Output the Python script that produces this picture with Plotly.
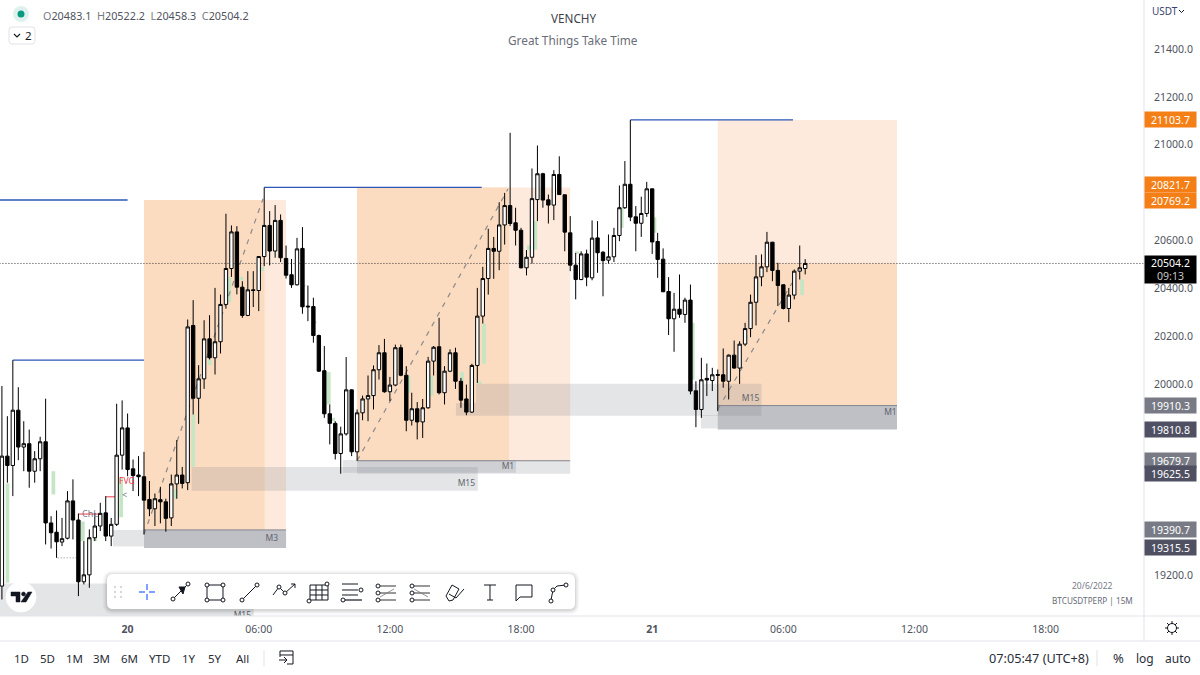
import plotly.graph_objects as go
import pandas as pd

# ---------- data ----------
first_bar = "2022-06-19 18:15"
highs = [19992,19866,20100,19987,19845,19810,19720,19780,19939,19448,19472,19441,19553,19602,19459,19344,19393,19462,19504,19532,19441,19918,19932,
 19877,19685,19699,19717,19595,19543,19571,19521,19622,19766,19654,20270,
 20351,20079,20267,20288,20402,20374,20712,20663,20660,20430,20472,20472,20535,20821.7,20723,20748,20709,20579,20523,20611,20656,20412,20361,20207,20159,19915,19845,19822,20113,19978,
 19894,19952,20036,20078,20163,20189,20030,20165,20165,20075,19964,19925,19938,20114,20159,20277,20075,20145,20152,20026,19998,20085,20402,20490,20649,20615,20760,20799,21050,20737,20653,20560,20901,20997,20883,20792,20894,20952,20792,20702,20548,20555,20562,
 20684,20681,20556,20625,20653,20830,20932,21103.7,20744,20783,20845,20817,20632,20567,20447,20381,20458,20361,20416,20012,20110,20086,20068,20061,20149,20124,20182,20179,20256,20374,20539,20542,20636,20594,20507,20416,20402,20479,20579,20522.2]
body_tops = [19699,19699,19891,19891,19751,19751,19688,19759,19759,19420,19381,19354,19512,19512,19432,19203,19358,19407,19460,19462,19414,19703,19817,
 19817,19646,19620,19613,19518,19521,19517,19508,19583,19620,19620,20239,
 20245,20022,20189,20189,20177,20333,20483,20636,20636,20405,20394,20394,20533,20663,20663,20684,20684,20525,20457,20565,20567,20326,20324,20203,20056,19876,19836,19792,19976,19976,
 19880,19938,19952,20060,20131,20131,19996,20152,20152,20037,19897,19897,19901,20096,20154,20156,20054,20131,20131,20012,19938,20078,20284,20441,20567,20567,20665,20746,20746,20674,20643,20530,20775,20879,20879,20770,20876,20876,20791,20632,20497,20544,20544,
 20610,20611,20551,20532,20621,20737,20835,20835,20699,20713,20816,20816,20596,20522,20387,20313,20313,20351,20351,19972,20018,20024,20039,20040,20039,20121,20121,20167,20232,20342,20448,20490,20593,20593,20475,20415,20372,20472,20486,20504.2]
body_bottoms = [19156,19660,19660,19737,19737,19636,19636,19688,19420,19379,19341,19340,19356,19432,19174,19174,19203,19358,19407,19365,19365,19414,19703,
 19643,19618,19613,19515,19479,19479,19508,19439,19441,19583,19585,19588,
 19941,19941,20022,20110,20110,20177,20333,20483,20405,20287,20287,20391,20391,20533,20556,20556,20528,20455,20415,20415,20323,20323,20203,20054,19876,19836,19710,19710,19792,19717,
 19717,19880,19938,19952,20060,19968,19968,19996,20037,19849,19849,19842,19842,19901,20096,19964,19964,20054,20012,19933,19883,19883,20078,20284,20441,20555,20555,20665,20671,20643,20486,20486,20530,20771,20769,20748,20748,20792,20635,20497,20437,20437,20447,
 20444,20549,20516,20518,20532,20621,20737,20698,20672,20672,20713,20594,20521,20386,20273,20273,20292,20291,19971,19894,19894,20017,20015,20037,20012,20012,20067,20067,20167,20232,20342,20448,20490,20475,20412,20316,20316,20372,20472,20483.1]
lows = [19100,19588,19532,19682,19636,19567,19588,19636,19330,19313,19274,19323,19351,19351,19114,19163,19149,19344,19386,19344,19323,19407,19643,
 19615,19553,19532,19372,19448,19407,19418,19383,19407,19521,19564,19557,
 19873,19834,19980,20103,20040,20128,20315,20448,20375,20277,20284,20322,20305,20493,20496,20528,20510,20441,20402,20412,20294,20263,20173,20051,19859,19748,19685,19625.5,19785,19699,
 19679.7,19849,19845,19894,20019,19964,19929,19991,20033,19803,19827,19769,19775,19897,20036,19957,19915,20050,19980,19901,19870,19880,20005,20253,20374,20440,20476,20583,20660,20579,20483,20454,20504,20681,20737,20671,20685,20791,20555,20472,20354,20434,20409,
 20434,20465,20367,20504,20510,20597,20732,20681,20555,20615,20699,20544,20444,20384,20205,20135,20277,20256,19957,19820,19859,19950,19971,19887,19985,19936,20064,20001,20159,20196,20245,20409,20468,20430,20326,20312,20259,20354,20437,20458.3]
direction = ("UDUDUDUUDDDUUDDUUUUDUUU" "DDDDDUDDUUDU" "DUUDUUUUDDUDUUDUDDDUDDDDDDDUUD"
             "UUUUUDUUDDUDUUUDUUDDDUUUUDUUDDDUUUDDUDDDDUD" "UDDUUUUDDUUDDDDUDUDDUDUDDUDUUUUUUDDDUUUU")
assert len(highs) == len(body_tops) == len(body_bottoms) == len(lows) == len(direction), (len(highs), len(body_tops), len(body_bottoms), len(lows), len(direction))

price_ticks = [21400, 21200, 21000, 20600, 20400, 20200, 20000, 19200]
time_tick_hours = [0, 6, 12, 18, 24, 30, 36, 42]
time_tick_labels = ["<b>20</b>", "06:00", "12:00", "18:00", "<b>21</b>", "06:00", "12:00", "18:00"]

# hours since 20 Jun 00:00, prices
orange_zones = [(0.75, 7.25, 20769.2, 19390.7, "#feeadc"), (10.5, 20.25, 20821.7, 19679.7, "#feeadc"), (27, 35.2, 21103.7, 19910.3, "#feeadc"),
                (0.75, 6.27, 20769.2, 19390.7, "#fcdcc1"), (10.5, 17.45, 20821.7, 19679.7, "#fcdcc1"), (27, 35.2, 20504.2, 19910.3, "#fcdcc1")]
grey_zones = [(-0.67, 0.75, 19390.7, 19322, .2), (0.75, 7.25, 19390.7, 19315.5, .48),
              (2.93, 16.02, 19654, 19554, .2), (9.85, 17.77, 19683, 19630, .2), (10.5, 20.25, 19679.7, 19625.5, .2),
              (15.94, 29.0, 20001, 19868, .2), (15.02, 15.94, 19921, 19868, .2),
              (26.23, 27, 19871, 19815, .2), (27, 35.2, 19910.3, 19810.8, .48), (-6, 5.77, 19167, 19000, .2)]
zone_edges = [(0.75, 7.25, 19390.7), (10.5, 20.25, 19679.7), (27, 35.2, 19910.3)]
blue_levels = [(-6, 0, 20769.2), (-5.25, 0.75, 20100), (6.25, 16.2, 20821.7), (23, 30.44, 21103.7)]
dashed_legs = [(0.75, 19372, 6.2, 20775), (10.5, 19679.7, 17.4, 20815), (27, 19895, 30.4, 20423)]
fvg_hours = [-5.5, -3.4, -2.05, -1.5, -0.3, 2.2, 3, 3.75, 4.65, 5.2, 6.15, 8.05, 8.55, 8.75, 9.2, 9.4, 12.85, 13.9, 15.3, 16.1, 16.3, 18.35, 18.65, 20, 20.55, 22.6, 24.1, 24.8, 25.85, 28.3, 28.8, 30.85]
fvg_tops = [19585, 19636, 19426, 19358, 19608, 19560, 19873, 20103, 20448, 20448, 20490, 20415, 20264, 20173, 20050, 19859, 20036, 20036, 20050, 20012, 20253, 20579, 20681, 20762, 20555, 20737, 20697, 20388, 20256, 20204, 20426, 20437]
fvg_bottoms = [19170, 19539, 19344, 19344, 19444, 19521, 19654, 20079, 20342, 20433, 20472, 20407, 20253, 20159, 19915, 19845, 19964, 19950, 20012, 20001, 20085, 20560, 20562, 20704, 20544, 20653, 20632, 20381, 20019, 20191, 20372, 20372]
zone_labels = ["M3", "M1", "M15", "M15", "M1", "M15"]
zone_label_hours = [6.6, 17.4, 15.5, 28.5, 34.9, 5.25]
zone_label_prices = [19353, 19653, 19582, 19938, 19880, 19030]
badges = [("21103.7", 21103.7, "#f57f17", 0), ("20821.7", 20821.7, "#f57f17", 3), ("20769.2", 20769.2, "#f57f17", 0),
          ("19910.3", 19910.3, "#787b86", 0), ("19810.8", 19810.8, "#4f5163", 0), ("19679.7", 19679.7, "#787b86", 0),
          ("19625.5", 19625.5, "#4f5163", 0), ("19390.7", 19390.7, "#787b86", 0), ("19315.5", 19315.5, "#4f5163", 0)]
last_price = 20504.2

# ---------- helpers ----------
base = pd.Timestamp("2022-06-20 00:00")
T = lambda h: (base + pd.Timedelta(hours=h)).strftime("%Y-%m-%d %H:%M:%S")
W, H = 1200, 675
px = lambda x: x / W
py = lambda y: 1 - y / H
FONT = "Noto Sans"
INK = "#131722"

opens = [b if d == "U" else t for t, b, d in zip(body_tops, body_bottoms, direction)]
closes = [t if d == "U" else b for t, b, d in zip(body_tops, body_bottoms, direction)]
times = pd.date_range(first_bar, periods=len(highs), freq="15min")

shapes, anns = [], []

# chart-space drawing
for h0, h1, p0, p1, col in orange_zones:
    shapes.append(dict(type="rect", layer="below", xref="x", yref="y", x0=T(h0), x1=T(h1), y0=p0, y1=p1, fillcolor=col, line_width=0))
for h, t, b in zip(fvg_hours, fvg_tops, fvg_bottoms):
    shapes.append(dict(type="rect", layer="below", xref="x", yref="y", x0=T(h - .08), x1=T(h + .09), y0=t, y1=b, fillcolor="#c4e6c4", line_width=0))
for h0, h1, p0, p1, a in grey_zones:
    shapes.append(dict(type="rect", layer="below", xref="x", yref="y", x0=T(h0), x1=T(h1), y0=p0, y1=p1, fillcolor=f"rgba(120,123,134,{a})", line_width=0))
for h0, h1, p in zone_edges:
    shapes.append(dict(type="line", layer="below", xref="x", yref="y", x0=T(h0), x1=T(h1), y0=p, y1=p, line=dict(color="#83858f", width=1)))
shapes.append(dict(type="line", layer="below", xref="x", yref="y", x0=T(-6), x1=T(47), y0=last_price, y1=last_price, line=dict(color="#333", width=1, dash="1px,2px")))
for h0, p0, h1, p1 in dashed_legs:
    shapes.append(dict(type="line", layer="below", xref="x", yref="y", x0=T(h0), x1=T(h1), y0=p0, y1=p1, line=dict(color="#8a8a8a", width=1.2, dash="5px,6px")))
for h0, h1, p in blue_levels:
    shapes.append(dict(type="line", layer="below", xref="x", yref="y", x0=T(h0), x1=T(h1), y0=p, y1=p, line=dict(color="#2c56b8", width=1.3)))
for h0, h1, p in [(-2.25, -1.35, 19457), (-0.99, -0.58, 19529)]:
    shapes.append(dict(type="line", layer="below", xref="x", yref="y", x0=T(h0), x1=T(h1), y0=p, y1=p, line=dict(color="#f23645", width=1)))
shapes.append(dict(type="line", layer="below", xref="x", yref="y", x0=T(-3.2), x1=T(-2.25), y0=19274, y1=19274, line=dict(color="#888", width=1, dash="1px,2px")))


def pline(pts, color=INK, width=1, fill=None, close=False):
    d = "M" + " L".join(f"{px(x):.5f},{py(y):.5f}" for x, y in pts) + (" Z" if close else "")
    shapes.append(dict(type="path", xref="paper", yref="paper", path=d, fillcolor=fill, line=dict(color=color, width=width)))


def circ(x, y, r, color=INK, fill="white", width=1):
    shapes.append(dict(type="circle", xref="paper", yref="paper", x0=px(x - r), x1=px(x + r), y0=py(y + r), y1=py(y - r),
                       fillcolor=fill, line=dict(color=color, width=width)))


def rrect(x0, y0, x1, y1, r, fill="white", line=None, width=1):
    P = lambda x, y: f"{px(x):.5f},{py(y):.5f}"
    d = (f"M{P(x0 + r, y0)} L{P(x1 - r, y0)} Q{P(x1, y0)} {P(x1, y0 + r)} L{P(x1, y1 - r)} Q{P(x1, y1)} {P(x1 - r, y1)} "
         f"L{P(x0 + r, y1)} Q{P(x0, y1)} {P(x0, y1 - r)} L{P(x0, y0 + r)} Q{P(x0, y0)} {P(x0 + r, y0)} Z")
    shapes.append(dict(type="path", xref="paper", yref="paper", path=d, fillcolor=fill,
                       line=dict(color=line or "rgba(0,0,0,0)", width=width if line else 0)))


def text(x, y, s, size=11.5, color="#50535e", anchor="center", **kw):
    anns.append(dict(xref="paper", yref="paper", x=px(x), y=py(y), text=s, showarrow=False, xanchor=anchor, yanchor="middle",
                     font=dict(family=FONT, size=size, color=color), **kw))


# panel separators
pline([(1144, 0), (1144, 641)], "#e0e3eb")
pline([(0, 616), (1200, 616)], "#e0e3eb")
pline([(0, 641), (1200, 641)], "#e0e3eb")

# TradingView logo
circ(21, 597, 15, "white", "white")
pline([(11, 592), (20, 592), (20, 602), (16, 602), (16, 596), (11, 596)], "#131722", .5, "#131722", True)
circ(23.5, 594, 2, "#131722", "#131722", .5)
pline([(28, 592), (32, 592), (26, 602), (21, 602)], "#131722", .5, "#131722", True)

# drawing toolbar
for g, a in [(5, .012), (4, .02), (3, .03), (2, .04), (1, .05)]:
    rrect(107 - g, 574 - g + 1, 575 + g, 609 + g + 1, 6 + g, f"rgba(0,0,0,{a})")
rrect(107, 574, 575, 609, 6, "white")
for x in (115, 121):
    for y in (587, 592, 597):
        circ(x, y, .8, "#c4c7cf", "#c4c7cf", .5)
for a, b in [((139, 592), (145, 592)), ((149, 592), (155, 592)), ((147, 584), (147, 590)), ((147, 594), (147, 600))]:
    pline([a, b], "#2962ff", 1.2)
pline([(174, 598), (187, 585)]); circ(173, 599, 2); circ(188, 584, 2)
pline([(179, 587), (185, 587), (183, 594)], INK, 1, INK, True)
pline([(207, 585), (223, 585), (223, 600), (207, 600)], INK, 1, None, True)
for x in (207, 223):
    for y in (585, 600):
        circ(x, y, 2)
pline([(243, 599), (257, 585)]); circ(242, 600, 2); circ(257, 585, 2)
pline([(273, 595), (279, 587), (285, 593), (295, 584)]); circ(279, 587, 2); circ(285, 593, 2)
pline([(291, 584), (295, 584), (295, 588)])
for v in (310, 316, 322, 328):
    pline([(v, 585), (v, 600)])
for y in (585, 590, 595, 600):
    pline([(310, y), (328, y)])
circ(327, 584, 2); circ(309, 601, 2)
for y in (584, 590, 595):
    pline([(342, y), (358, y)])
pline([(345, 600), (362, 600)], INK, 1.2); circ(343, 600, 2); circ(361, 590, 2)
for yy in (586, 593, 600):
    pline([(380, yy), (396, yy)], "#333"); circ(378, yy, 2)
for yy in (586, 593, 600):
    pline([(414, yy), (430, yy)], "#333"); circ(412, yy, 2)
pline([(380, 597), (394, 589)], "#777", .8, None); pline([(414, 589), (428, 597)], "#777", .8, None)
pline([(449, 601), (446, 596), (452, 585), (459, 589), (453, 600)], INK, 1, None, True)
pline([(449, 594), (456, 598), (464, 589)])
pline([(484, 585), (496, 585)]); pline([(490, 585), (490, 600)]); pline([(487, 600), (493, 600)])
pline([(516, 585), (532, 585), (532, 597), (520, 597), (516, 601)], INK, 1, None, True)
pline([(551, 600), (553, 590), (557, 586), (566, 585)]); circ(551, 601, 2); circ(553, 590, 2); circ(566, 585, 2)

# settings gear, calendar icon, status dot, collapse button
circ(1172, 628, 4.5)
for a, b in [((1172, 621), (1172, 624)), ((1172, 632), (1172, 635)), ((1165, 628), (1168, 628)), ((1176, 628), (1179, 628)),
             ((1167, 623), (1169, 625)), ((1175, 631), (1177, 633)), ((1177, 623), (1175, 625)), ((1169, 631), (1167, 633))]:
    pline([a, b])
pline([(280, 657), (280, 651), (293, 651), (293, 664), (287, 664)])
pline([(280, 655), (293, 655)]); pline([(279, 660), (287, 660)]); pline([(284, 657), (287, 660), (284, 663)])
pline([(264, 650), (264, 666)], "#e0e3eb")
pline([(1097, 650), (1097, 666)], "#e0e3eb")
circ(21, 14, 8, "#dff1ee", "#dff1ee", 0)
circ(21, 14, 3.5, "#089981", "#089981", 0)
rrect(9, 27, 35, 44, 3, "white", "#e0e3eb")
pline([(14, 34), (17, 37), (20, 34)], "#131722", 1.1)
pline([(1179, 10), (1181.5, 12.5), (1184, 10)], "#131722", 1)

# text
text(573, 18, "VENCHY", 11.7, "#3c3f4a")
text(573, 40, "Great Things Take Time", 11.8, "#6a6d78")
text(41, 15, '<span style="color:#787b86">O</span>20483.1  <span style="color:#787b86">H</span>20522.2  <span style="color:#787b86">L</span>20458.3  <span style="color:#787b86">C</span>20504.2', 10.8, "#50535e", "left")
text(28, 35.5, "2", 11.5, "#131722")
text(1150, 11, "USDT", 10, "#3c3f70", "left")
for x, s in zip((21, 47, 74, 101, 129, 159, 189, 215, 242), "1D 5D 1M 3M 6M YTD 1Y 5Y All".split()):
    text(x, 658, s, 11.5, "#2a2e39")
text(1091, 658, "07:05:47 (UTC+8)", 12.7, "#2a2e39", "right")
text(1118, 658, "%", 13, "#2a2e39")
text(1145, 658, "log", 12, "#2a2e39")
text(1178, 658, "auto", 12, "#2a2e39")
text(1092, 585, "20/6/2022", 8.5, "#787b86")
text(1092, 600, "BTCUSDTPERP | 15M", 8.2, "#666a75")

# chart annotations
anns.append(dict(xref="x", yref="y", x=T(-0.04), y=19597, text="FVG", showarrow=False, font=dict(family=FONT, size=8.5, color="#f23645")))
anns.append(dict(xref="x", yref="y", x=T(-0.16), y=19540, text="&lt;", showarrow=False, font=dict(family=FONT, size=9, color="#787b86")))
anns.append(dict(xref="x", yref="y", x=T(-1.72), y=19459, text="ChL", showarrow=False, font=dict(family=FONT, size=9, color="#787b86")))

# price badges
for s, p, col, shift in badges:
    anns.append(dict(xref="paper", yref="y", x=1144 / W, y=p, yshift=shift, text=s, showarrow=False, xanchor="left", yanchor="middle",
                     width=51, height=15, bgcolor=col, borderpad=0, font=dict(family=FONT, size=10.5, color="white")))
anns.append(dict(xref="paper", yref="y", x=1144 / W, y=last_price, yshift=-6, showarrow=False, xanchor="left", yanchor="middle",
                 text=f'{last_price}<br><span style="color:#c8c8c8">09:13</span>', width=51, height=27, bgcolor="#000000", borderpad=0,
                 font=dict(family=FONT, size=10.5, color="white")))

fig = go.Figure()
fig.add_trace(go.Candlestick(x=times, open=opens, high=highs, low=lows, close=closes, whiskerwidth=0,
                             increasing=dict(fillcolor="white", line=dict(color="#000000", width=1)),
                             decreasing=dict(fillcolor="#000000", line=dict(color="#000000", width=1)),
                             hoverinfo="skip", showlegend=False))
fig.add_trace(go.Scatter(x=[T(h) for h in zone_label_hours], y=zone_label_prices, text=zone_labels, mode="text", cliponaxis=True,
                         textfont=dict(family=FONT, size=8.5, color="#62656f"), hoverinfo="skip", showlegend=False))

fig.update_layout(
    width=W, height=H, margin=dict(l=0, r=0, t=0, b=0), paper_bgcolor="white", plot_bgcolor="white", showlegend=False,
    font=dict(family=FONT, size=10.5, color="#50535e"), shapes=shapes, annotations=anns, boxgap=0.12,
    xaxis=dict(domain=[0, 1144 / W], range=[T(-5.837), T(46.5)], rangeslider=dict(visible=False), showgrid=False, zeroline=False, showline=False,
               tickmode="array", tickvals=[T(h) for h in time_tick_hours], ticktext=time_tick_labels, ticks="outside", ticklen=3, tickcolor="rgba(0,0,0,0)",
               tickfont=dict(family=FONT, size=10.5, color="#50535e"), anchor="y"),
    yaxis=dict(domain=[1 - 616 / H, 1], range=[19031, 21605], side="right", showgrid=False, zeroline=False, showline=False,
               tickmode="array", tickvals=price_ticks, ticktext=[f"{v:.1f}" for v in price_ticks], ticks="outside", ticklen=7, tickcolor="rgba(0,0,0,0)",
               tickfont=dict(family=FONT, size=10.5, color="#50535e"), anchor="x"),
)
fig.write_html("out.html", config={"displayModeBar": False},
               post_script="document.body.style.margin='0';document.documentElement.style.overflow='hidden';")
